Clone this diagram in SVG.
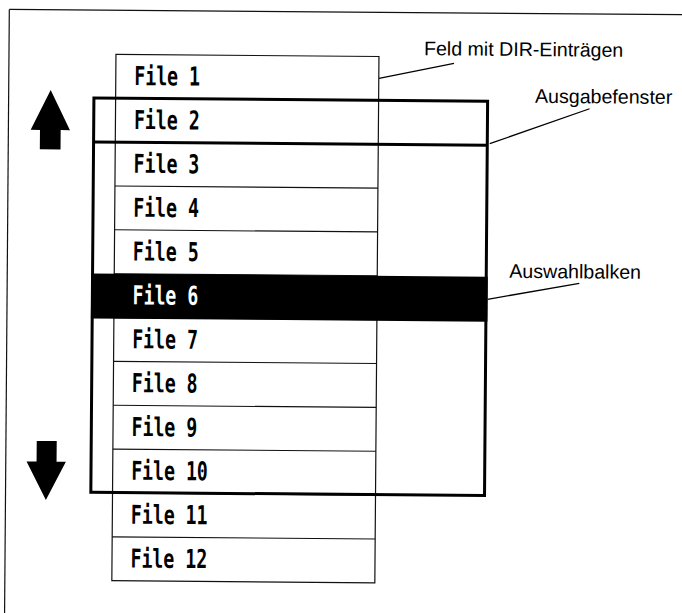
<svg xmlns="http://www.w3.org/2000/svg" width="682" height="613" viewBox="0 0 682 613">
<style>
.thin{fill:none;stroke:#111;stroke-width:1.2}
.sep{stroke:#111;stroke-width:1.1}
.thick{fill:none;stroke:#000;stroke-width:3}
.lead{fill:none;stroke:#000;stroke-width:1.3}
.file{font-family:"DejaVu Sans Mono",monospace;font-weight:bold;font-size:26px;fill:#000}
.inv{fill:#fff}
.lbl{font-family:"Liberation Sans",Arial,sans-serif;font-size:19.6px;fill:#000}
.arrow{fill:#000}
</style>
<rect width="682" height="613" fill="#fff"/>
<g transform="rotate(0.45 341 306)">
  <g id="frame">
    <line class="thin" x1="7" y1="12" x2="692" y2="12"/>
    <line class="thin" x1="7" y1="12" x2="7" y2="625"/>
  </g>
  <g id="dir-field">
    <rect class="thin" x="114" y="56.2" width="263" height="526.3"/>
    <line class="sep" x1="114" y1="100.1" x2="377" y2="100.1"/>
    <line class="sep" x1="114" y1="143.9" x2="377" y2="143.9"/>
    <line class="sep" x1="114" y1="187.8" x2="377" y2="187.8"/>
    <line class="sep" x1="114" y1="231.6" x2="377" y2="231.6"/>
    <line class="sep" x1="114" y1="275.5" x2="377" y2="275.5"/>
    <line class="sep" x1="114" y1="319.4" x2="377" y2="319.4"/>
    <line class="sep" x1="114" y1="363.2" x2="377" y2="363.2"/>
    <line class="sep" x1="114" y1="407.1" x2="377" y2="407.1"/>
    <line class="sep" x1="114" y1="450.9" x2="377" y2="450.9"/>
    <line class="sep" x1="114" y1="494.8" x2="377" y2="494.8"/>
    <line class="sep" x1="114" y1="538.7" x2="377" y2="538.7"/>
  </g>
  <g id="selection-bar">
    <rect x="91" y="275.5" width="396.5" height="45" fill="#000"/>
  </g>
  <g id="files">
    <text class="file" transform="translate(132.5 86.7) scale(0.7 1)">File 1</text>
    <text class="file" transform="translate(132.5 130.6) scale(0.7 1)">File 2</text>
    <text class="file" transform="translate(132.5 174.4) scale(0.7 1)">File 3</text>
    <text class="file" transform="translate(132.5 218.3) scale(0.7 1)">File 4</text>
    <text class="file" transform="translate(132.5 262.1) scale(0.7 1)">File 5</text>
    <text class="file inv" transform="translate(132.5 306) scale(0.7 1)">File 6</text>
    <text class="file" transform="translate(132.5 349.9) scale(0.7 1)">File 7</text>
    <text class="file" transform="translate(132.5 393.7) scale(0.7 1)">File 8</text>
    <text class="file" transform="translate(132.5 437.6) scale(0.7 1)">File 9</text>
    <text class="file" transform="translate(132.5 481.4) scale(0.7 1)">File 10</text>
    <text class="file" transform="translate(132.5 525.3) scale(0.7 1)">File 11</text>
    <text class="file" transform="translate(132.5 569.2) scale(0.7 1)">File 12</text>
  </g>
  <g id="output-window">
    <rect class="thick" x="92.3" y="100" width="393.7" height="394.3"/>
    <line class="thick" x1="92.3" y1="144" x2="486" y2="144"/>
  </g>
  <g id="arrow-up">
    <polygon class="arrow" points="49,92.3 68.6,132.3 59.3,132.3 59.3,151.6 38.6,151.6 38.6,132.3 29.3,132.3"/>
  </g>
  <g id="arrow-down">
    <polygon class="arrow" points="37.8,443.3 57.8,443.3 57.8,464 67.1,464 47.4,502.3 27.8,464 37.8,464"/>
  </g>
  <g id="connectors">
    <line class="lead" x1="377.2" y1="78" x2="452.1" y2="62.4"/>
    <line class="lead" x1="488.5" y1="142.5" x2="588" y2="106.8"/>
    <line class="lead" x1="487.5" y1="298.2" x2="579.1" y2="281.4"/>
  </g>
  <g id="labels">
    <text class="lbl" x="422" y="54.6">Feld mit DIR-Einträgen</text>
    <text class="lbl" x="533.4" y="101.3">Ausgabefenster</text>
    <text class="lbl" x="509" y="276.5">Auswahlbalken</text>
  </g>
</g>
</svg>
